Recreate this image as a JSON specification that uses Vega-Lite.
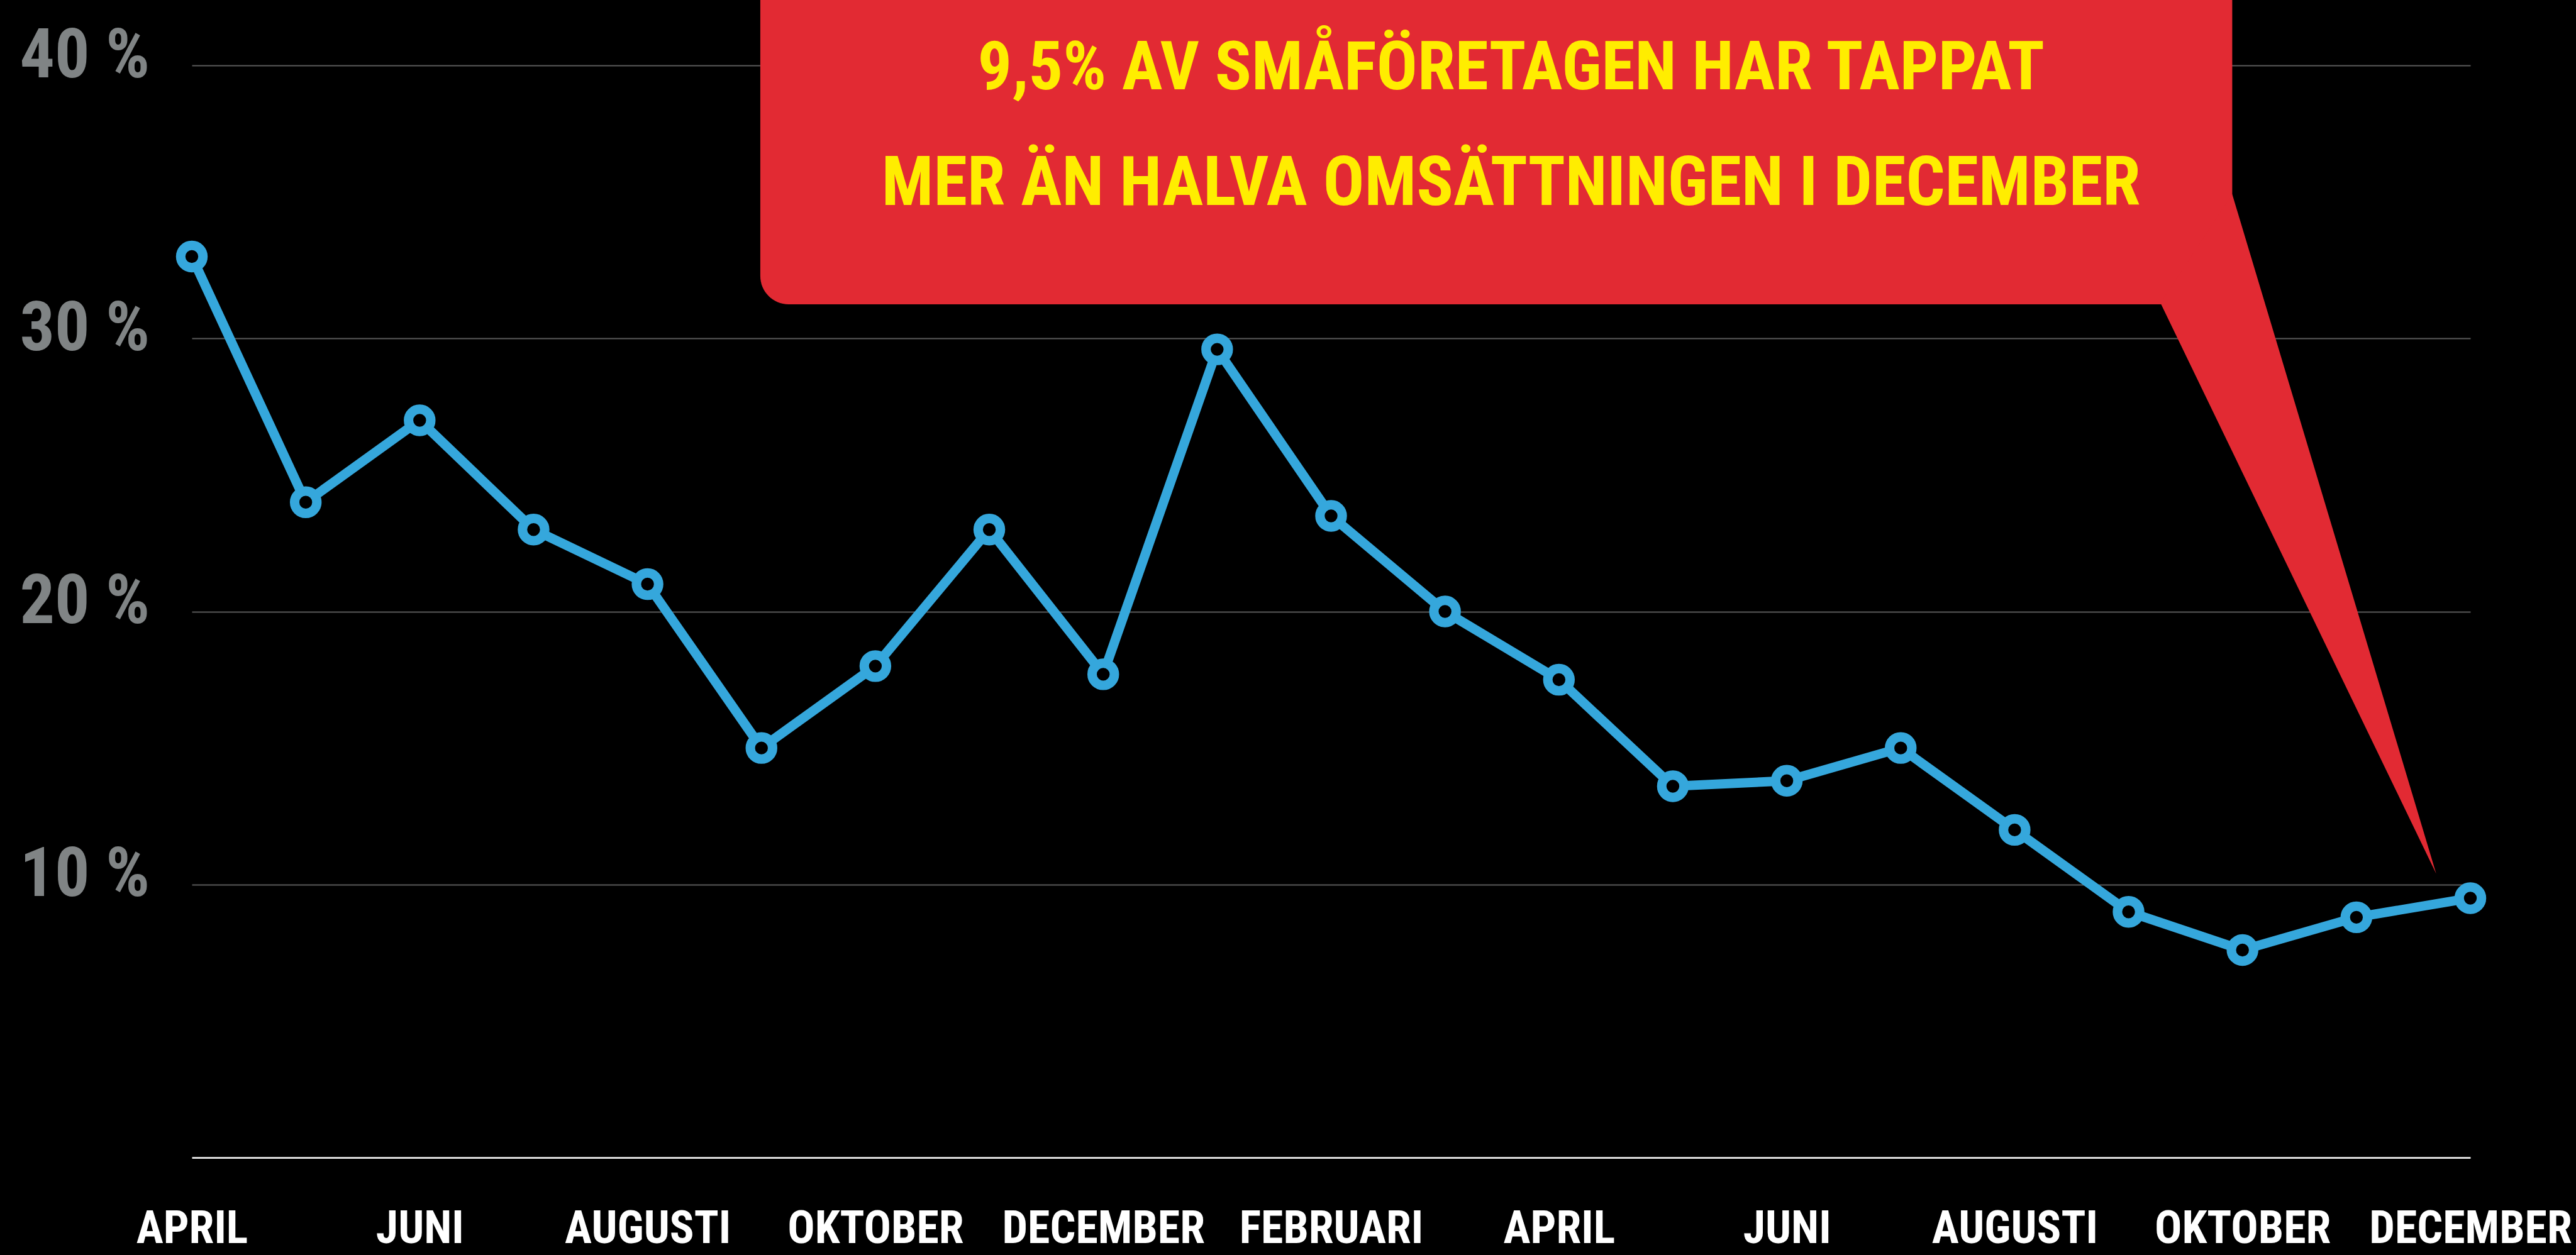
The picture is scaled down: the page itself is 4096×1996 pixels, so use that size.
{
  "$schema": "https://vega.github.io/schema/vega-lite/v6.json",
  "width": 3623,
  "height": 1737,
  "autosize": {"type": "none"},
  "padding": {"left": 305, "top": 104, "right": 168, "bottom": 155},
  "background": "#000000",
  "config": {"view": {"stroke": null}, "font": "Roboto Condensed, Roboto, sans-serif"},
  "datasets": {
    "series": [
      {"t": 0, "manad": "APRIL", "ar": 2020, "andel": 33.0},
      {"t": 1, "manad": "MAJ", "ar": 2020, "andel": 24.0},
      {"t": 2, "manad": "JUNI", "ar": 2020, "andel": 27.0},
      {"t": 3, "manad": "JULI", "ar": 2020, "andel": 23.0},
      {"t": 4, "manad": "AUGUSTI", "ar": 2020, "andel": 21.0},
      {"t": 5, "manad": "SEPTEMBER", "ar": 2020, "andel": 15.0},
      {"t": 6, "manad": "OKTOBER", "ar": 2020, "andel": 18.0},
      {"t": 7, "manad": "NOVEMBER", "ar": 2020, "andel": 23.0},
      {"t": 8, "manad": "DECEMBER", "ar": 2020, "andel": 17.7},
      {"t": 9, "manad": "JANUARI", "ar": 2021, "andel": 29.6},
      {"t": 10, "manad": "FEBRUARI", "ar": 2021, "andel": 23.5},
      {"t": 11, "manad": "MARS", "ar": 2021, "andel": 20.0},
      {"t": 12, "manad": "APRIL", "ar": 2021, "andel": 17.5},
      {"t": 13, "manad": "MAJ", "ar": 2021, "andel": 13.6},
      {"t": 14, "manad": "JUNI", "ar": 2021, "andel": 13.8},
      {"t": 15, "manad": "JULI", "ar": 2021, "andel": 15.0},
      {"t": 16, "manad": "AUGUSTI", "ar": 2021, "andel": 12.0},
      {"t": 17, "manad": "SEPTEMBER", "ar": 2021, "andel": 9.0},
      {"t": 18, "manad": "OKTOBER", "ar": 2021, "andel": 7.6},
      {"t": 19, "manad": "NOVEMBER", "ar": 2021, "andel": 8.8},
      {"t": 20, "manad": "DECEMBER", "ar": 2021, "andel": 9.5}
    ],
    "pil": [
      {"t": 17.28, "ovre": 31.3, "nedre": 31.3},
      {"t": 17.91, "ovre": 35.28, "nedre": 25.86},
      {"t": 19.7, "ovre": 10.4, "nedre": 10.4}
    ]
  },
  "layer": [
    {
      "data": {"name": "series"},
      "mark": {"type": "line", "color": "#35A7DC", "strokeWidth": 15},
      "encoding": {
        "x": {
          "field": "t", "type": "quantitative", "title": null,
          "scale": {"domain": [0, 20], "nice": false, "zero": false},
          "axis": {
            "title": null,
            "values": [0, 2, 4, 6, 8, 10, 12, 14, 16, 18, 20],
            "labelExpr": "['APRIL','MAJ','JUNI','JULI','AUGUSTI','SEPTEMBER','OKTOBER','NOVEMBER','DECEMBER','JANUARI','FEBRUARI','MARS','APRIL','MAJ','JUNI','JULI','AUGUSTI','SEPTEMBER','OKTOBER','NOVEMBER','DECEMBER'][datum.value]",
            "grid": false, "ticks": false, "tickSize": 0,
            "domain": true, "domainColor": "#dcdcdc", "domainWidth": 3,
            "labelColor": "#ffffff", "labelFont": "Roboto Condensed, Roboto, sans-serif",
            "labelFontWeight": "bold", "labelFontSize": 72, "labelLimit": 0,
            "labelBaseline": "middle", "labelPadding": 113,
            "labelOverlap": false, "labelBound": false, "labelFlush": false
          }
        },
        "y": {
          "field": "andel", "type": "quantitative", "title": null,
          "scale": {"domain": [0, 40], "nice": false, "zero": false},
          "axis": {
            "title": null,
            "values": [10, 20, 30, 40],
            "labelExpr": "datum.value + ' %'",
            "grid": true, "gridColor": "#5a5a5a", "gridWidth": 2,
            "ticks": false, "tickSize": 0, "domain": false,
            "labelColor": "#808485", "labelFont": "Roboto Condensed, Roboto, sans-serif",
            "labelFontWeight": "bold", "labelFontSize": 110, "labelLimit": 0,
            "labelAlign": "left", "labelBaseline": "middle",
            "labelPadding": 274, "labelOffset": -15,
            "labelOverlap": false, "labelBound": false, "labelFlush": false
          }
        }
      }
    },
    {
      "data": {"name": "series"},
      "mark": {"type": "point", "shape": "circle", "filled": true, "fill": "#000000", "stroke": "#35A7DC", "strokeWidth": 15, "size": 1255, "opacity": 1},
      "encoding": {
        "x": {"field": "t", "type": "quantitative", "title": null, "scale": {"domain": [0, 20], "nice": false, "zero": false}},
        "y": {"field": "andel", "type": "quantitative", "title": null, "scale": {"domain": [0, 40], "nice": false, "zero": false}}
      }
    },
    {
      "data": {"values": [{}]},
      "mark": {"type": "rect", "color": "#E22A33", "cornerRadius": 45},
      "encoding": {
        "x": {"datum": 4.99, "type": "quantitative", "title": null, "scale": {"domain": [0, 20], "nice": false, "zero": false}},
        "x2": {"datum": 17.91},
        "y": {"datum": 31.25, "type": "quantitative", "title": null, "scale": {"domain": [0, 40], "nice": false, "zero": false}},
        "y2": {"datum": 44}
      }
    },
    {
      "data": {"name": "pil"},
      "mark": {"type": "area", "color": "#E22A33", "interpolate": "linear", "orient": "vertical"},
      "encoding": {
        "x": {"field": "t", "type": "quantitative", "title": null, "scale": {"domain": [0, 20], "nice": false, "zero": false}},
        "y": {"field": "ovre", "type": "quantitative", "title": null, "scale": {"domain": [0, 40], "nice": false, "zero": false}},
        "y2": {"field": "nedre"}
      }
    },
    {
      "data": {"values": [{}]},
      "mark": {"type": "text", "text": "9,5% AV SMÅFÖRETAGEN HAR TAPPAT", "font": "Roboto Condensed, Roboto, sans-serif", "fontWeight": "bold", "fontSize": 108, "color": "#FFED00", "align": "center", "baseline": "middle"},
      "encoding": {
        "x": {"datum": 11.58, "type": "quantitative", "title": null, "scale": {"domain": [0, 20], "nice": false, "zero": false}},
        "y": {"datum": 39.86, "type": "quantitative", "title": null, "scale": {"domain": [0, 40], "nice": false, "zero": false}}
      }
    },
    {
      "data": {"values": [{}]},
      "mark": {"type": "text", "text": "MER ÄN HALVA OMSÄTTNINGEN I DECEMBER", "font": "Roboto Condensed, Roboto, sans-serif", "fontWeight": "bold", "fontSize": 109, "color": "#FFED00", "align": "center", "baseline": "middle"},
      "encoding": {
        "x": {"datum": 11.58, "type": "quantitative", "title": null, "scale": {"domain": [0, 20], "nice": false, "zero": false}},
        "y": {"datum": 35.65, "type": "quantitative", "title": null, "scale": {"domain": [0, 40], "nice": false, "zero": false}}
      }
    }
  ]
}
